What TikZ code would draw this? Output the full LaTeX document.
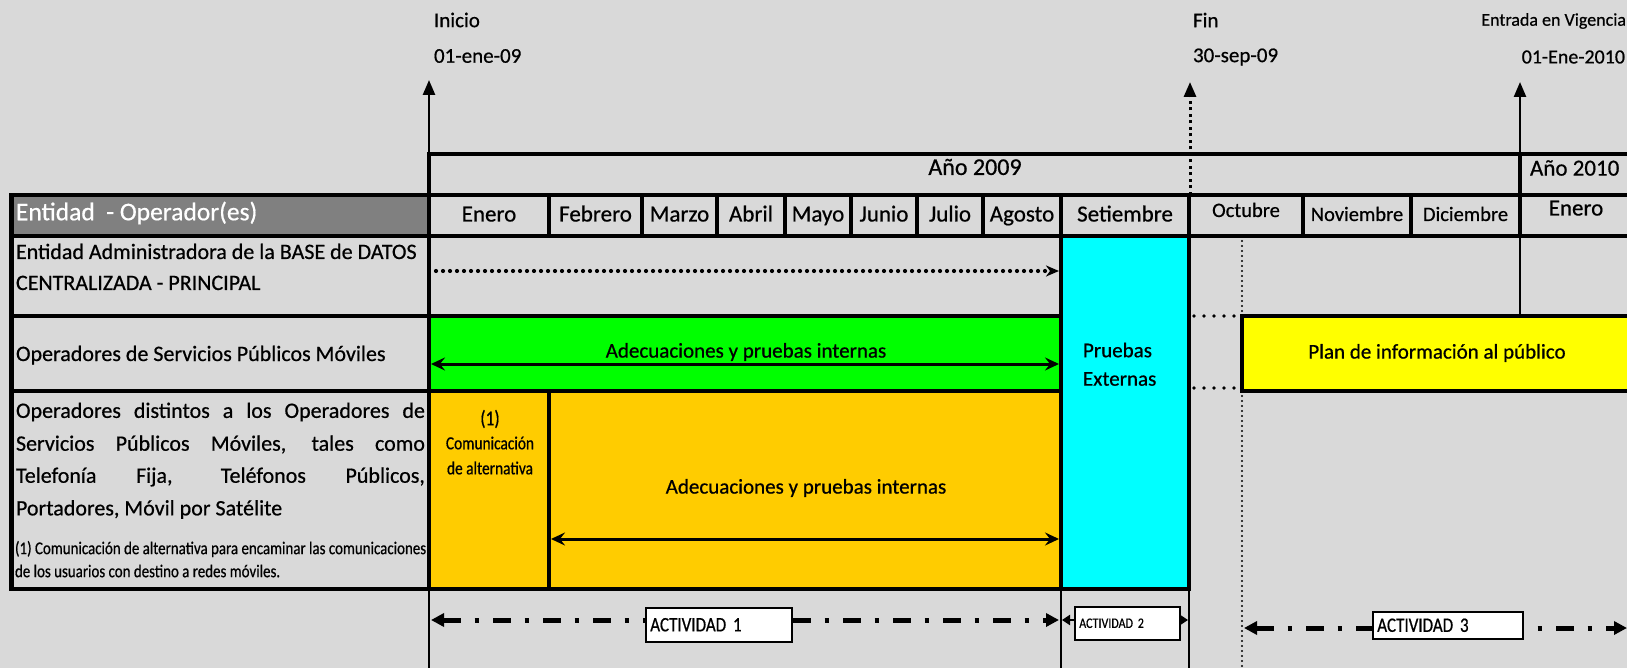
\documentclass[tikz,border=0pt]{standalone}
\usepackage{fontspec}
\setmainfont{Carlito}[FakeBold=0.6]
\newfontfamily\narrowfont{Carlito}[FakeStretch=0.83,FakeBold=0.6]
\usetikzlibrary{arrows.meta}
\definecolor{bggray}{HTML}{D9D9D9}
\definecolor{hdrgray}{HTML}{808080}
\definecolor{grn}{HTML}{00FF00}
\definecolor{orng}{HTML}{FFCC00}
\definecolor{cyn}{HTML}{00FFFF}
\definecolor{yel}{HTML}{FFFF00}
\newcommand\myfs[1]{\fontsize{#1}{#1}\selectfont}
\tikzset{
  gridline/.style={line width=4.5pt, line cap=rect},
  thinrule/.style={line width=2.5pt},
  txt/.style={inner sep=0pt, outer sep=0pt},
  uptip/.style={-{Triangle[length=15pt,width=12pt]}},
  dotrow/.style={line width=4.2pt, dash pattern=on 0pt off 7pt, line cap=round},
  dotlink/.style={line width=3.8pt, dash pattern=on 0pt off 10pt, line cap=round},
  dotvert/.style={line width=2.2pt, dash pattern=on 0pt off 5pt, line cap=round},
  bartip/.tip={Stealth[length=14pt,width=13pt,inset=5pt]},
  acttip/.tip={Triangle[length=13pt,width=13pt]},
  smalltip/.tip={Triangle[length=8pt,width=10pt]},
  actline/.style={line width=5pt, dash pattern=on 18pt off 13.5pt on 4.5pt off 14pt},
  actbox/.style={draw=black, fill=white, line width=1.5pt, inner sep=3pt, anchor=north west, align=left},
  month/.style={txt, anchor=base, font=\myfs{23}},
  smallmonth/.style={txt, anchor=base, font=\myfs{20.5}},
  rowtxt/.style={txt, anchor=west, font=\myfs{22}},
  rowbase/.style={txt, anchor=base west, font=\myfs{22}},
  boxtxt/.style={txt, font=\myfs{21}},
}
\begin{document}
\begin{tikzpicture}[x=1pt,y=-1pt]
\useasboundingbox (0,0) rectangle (1627,668);
\fill[bggray] (0,0) rectangle (1627,668);
\begin{scope}
\clip (0,0) rectangle (1627,668);
% coloured areas
\fill[hdrgray] (11.5,195) rectangle (429,236);
\fill[cyn] (1061,236) rectangle (1189,589);
\fill[grn] (429,316) rectangle (1061,391);
\fill[orng] (429,391) rectangle (1061,589);
\fill[yel] (1242,316) rectangle (1660,391);

% milestone arrows and thin rules
\coordinate (axbot) at (429,668);
\coordinate (axtip) at (429,80);
\draw[thinrule, uptip] (axbot) -- (axtip);
\coordinate (finbot) at (1190,195);
\coordinate (fintip) at (1190,82);
\draw[line width=3pt, dash pattern=on 3pt off 3.5pt, uptip] (finbot) -- (fintip);
\coordinate (vigbot) at (1520,316);
\coordinate (vigtip) at (1520,82);
\draw[thinrule, uptip] (vigbot) -- (vigtip);
\draw[thinrule] (1061,589) -- (1061,668);
\draw[thinrule] (1189,589) -- (1189,668);
\draw[dotvert] (1242,236) -- (1242,668);

% table grid
\draw[gridline] (429,154) -- (1660,154);
\draw[gridline] (11.5,195) -- (1660,195);
\draw[gridline] (11.5,236) -- (1660,236);
\draw[gridline] (11.5,316) -- (1061,316);
\draw[gridline] (11.5,391) -- (1061,391);
\draw[gridline] (11.5,589) -- (1189,589);
\draw[gridline] (11.5,195) -- (11.5,589);
\draw[gridline] (429,154) -- (429,589);
\draw[gridline] (1061,195) -- (1061,589);
\draw[gridline] (1189,195) -- (1189,589);
\draw[gridline] (549,391) -- (549,589);
\foreach \x in {549,642,717,785,851,917,983,1303,1411}
  \draw[gridline] (\x,195) -- (\x,236);
\draw[gridline] (1520,154) -- (1520,236);
\draw[gridline] (1242,316) rectangle (1660,391);

% dotted links to the yellow box
\coordinate (lk1a) at (1194,316); \coordinate (lk1b) at (1242,316);
\coordinate (lk2a) at (1194,388); \coordinate (lk2b) at (1242,388);
\draw[dotlink] (lk1a) -- (lk1b);
\draw[dotlink] (lk2a) -- (lk2b);

% row arrows
\coordinate (r1a) at (436,271); \coordinate (r1b) at (1059,271);
\draw[dotrow, -{Stealth[length=13pt,width=11pt,inset=4pt]}] (r1a) -- (r1b);
\coordinate (g1a) at (431,364); \coordinate (g1b) at (1059,364);
\draw[line width=3pt, bartip-bartip] (g1a) -- (g1b);
\coordinate (o1a) at (551,539); \coordinate (o1b) at (1059,539);
\draw[line width=3pt, bartip-bartip] (o1a) -- (o1b);

% activity lines
\coordinate (a1a) at (431,620); \coordinate (a1b) at (1059,620);
\draw[actline, acttip-acttip] (a1a) -- (a1b);
\coordinate (a2a) at (1062,620); \coordinate (a2b) at (1188,620);
\draw[line width=2pt, smalltip-smalltip] (a2a) -- (a2b);
\coordinate (a3a) at (1244,628); \coordinate (a3b) at (1627,628);
\draw[actline, acttip-acttip] (a3a) -- (a3b);
\node[actbox, minimum width=146pt, minimum height=34pt, text width=137pt, font=\narrowfont\myfs{20.5}] (act1) at (645,607) {ACTIVIDAD 1};
\node[actbox, minimum width=105pt, minimum height=33pt, text width=96pt, font=\narrowfont\myfs{14.5}] (act2) at (1074,606) {ACTIVIDAD 2};
\node[actbox, minimum width=150pt, minimum height=27pt, text width=141pt, font=\narrowfont\myfs{20.5}] (act3) at (1372,611) {ACTIVIDAD 3};

% milestone texts
\node[txt, anchor=west, font=\myfs{21}] (inicio) at (434,20) {Inicio};
\node[txt, anchor=west, font=\myfs{21}] (inifecha) at (434,56) {01-ene-09};
\node[txt, anchor=west, font=\myfs{21}] (fin) at (1193,20) {Fin};
\node[txt, anchor=west, font=\myfs{21}] (finfecha) at (1193,57) {30-sep-09};
\node[txt, anchor=east, font=\myfs{18}] (vig) at (1626,21) {Entrada en Vigencia};
\node[txt, anchor=east, font=\myfs{20}] (vigfecha) at (1625,57) {01-Ene-2010};

% years
\node[txt, font=\myfs{24}] (y2009) at (975,167) {Año 2009};
\node[txt, anchor=west, font=\myfs{23}] (y2010) at (1530,168) {Año 2010};

% header
\node[txt, anchor=west, text=white, font=\myfs{25.5}] (hdr) at (16,213) {Entidad\ \ - Operador(es)};
\node[month] (m1) at (489,221.5) {Enero};
\node[month] (m2) at (595.5,221.5) {Febrero};
\node[month] (m3) at (679.5,221.5) {Marzo};
\node[month] (m4) at (751,221.5) {Abril};
\node[month] (m5) at (818,221.5) {Mayo};
\node[month] (m6) at (884,221.5) {Junio};
\node[month] (m7) at (950,221.5) {Julio};
\node[month] (m8) at (1022,221.5) {Agosto};
\node[month] (m9) at (1125,221.5) {Setiembre};
\node[smallmonth] (m10) at (1246,217) {Octubre};
\node[smallmonth] (m11) at (1357,221) {Noviembre};
\node[smallmonth] (m12) at (1465.5,221) {Diciembre};
\node[month] (m13) at (1576,215.5) {Enero};

% row labels
\node[rowbase] (r1l1) at (16,259) {Entidad Administradora de la BASE de DATOS};
\node[rowbase] (r1l2) at (16,290) {CENTRALIZADA - PRINCIPAL};
\node[rowbase] (r2l1) at (16,361) {Operadores de Servicios Públicos Móviles};
\node[rowtxt] (r3l1) at (16,412) {\makebox[409pt][s]{Operadores distintos a los Operadores de}};
\node[rowtxt] (r3l2) at (16,444.5) {\makebox[409pt][s]{Servicios Públicos Móviles, tales como}};
\node[rowtxt] (r3l3) at (16,477) {\makebox[409pt][s]{Telefonía Fija, Teléfonos Públicos,}};
\node[rowtxt] (r3l4) at (16,509.5) {Portadores, Móvil por Satélite};
\node[txt, anchor=west, font=\narrowfont\myfs{18}] (note1) at (15,549) {(1) Comunicación de alternativa para encaminar las comunicaciones};
\node[txt, anchor=west, font=\narrowfont\myfs{18}] (note2) at (15,571) {de los usuarios con destino a redes móviles.};

% box texts
\node[boxtxt] (gtxt) at (746,352) {Adecuaciones y pruebas internas};
\node[boxtxt] (otxt) at (806,488) {Adecuaciones y pruebas internas};
\node[boxtxt] (ytxt) at (1437,353) {Plan de información al público};
\node[boxtxt, anchor=west] (pr1) at (1083,350) {Pruebas};
\node[boxtxt, anchor=west] (pr2) at (1083,379) {Externas};
\node[txt, font=\narrowfont\myfs{21}] (c1) at (490,419) {(1)};
\node[txt, font=\narrowfont\myfs{18.5}] (c2) at (490,443) {Comunicación};
\node[txt, font=\narrowfont\myfs{18.5}] (c3) at (490,468) {de alternativa};
\end{scope}
\end{tikzpicture}
\end{document}
